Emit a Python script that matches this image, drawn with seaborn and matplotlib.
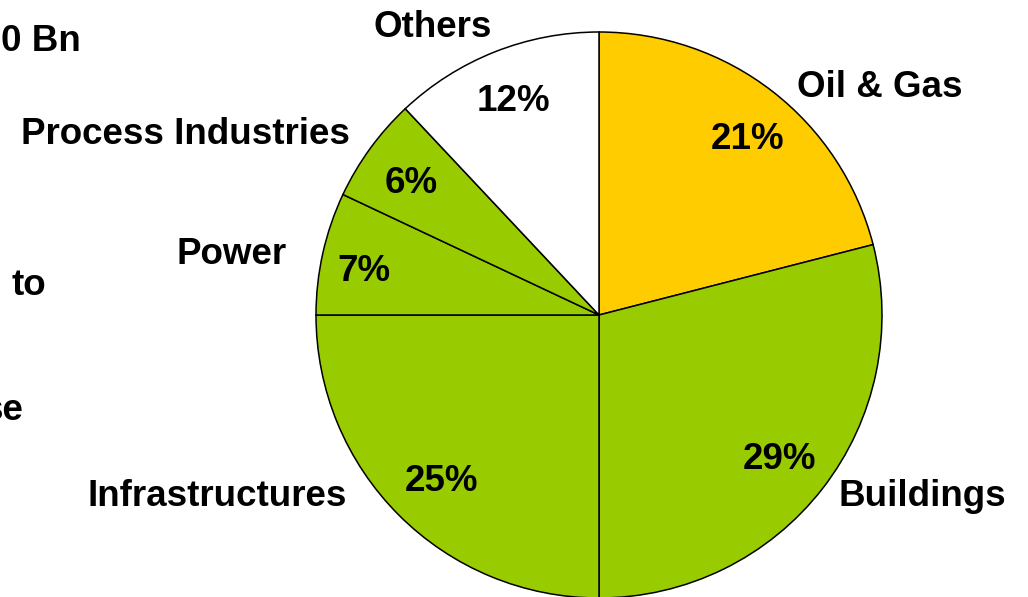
import matplotlib
matplotlib.use("Agg")
import matplotlib.pyplot as plt
import seaborn as sns

# Market split by segment (percent of total)
segments = ["Oil & Gas", "Buildings", "Infrastructures", "Power",
            "Process Industries", "Others"]
shares = [21, 29, 25, 7, 6, 12]
colors = ["#FFCC00", "#99CC00", "#99CC00", "#99CC00", "#99CC00", "#FFFFFF"]

# Fragments of the side text block that run past the left edge
side_text = ["0 Bn", "to", "se"]

sns.set_theme(style="white")
plt.rcParams["font.family"] = ["Liberation Sans", "DejaVu Sans"]

W, H = 1028, 597
fig = plt.figure(figsize=(W / 100, H / 100), dpi=100)
ax = fig.add_axes([0, 0, 1, 1])
ax.set_xlim(0, W)
ax.set_ylim(0, H)
ax.set_aspect("equal")
ax.axis("off")

# Pie geometry in pixel units (y measured from the bottom)
cx, cy, r = 599, H - 315, 283
ax.pie(shares, colors=colors, startangle=90, counterclock=False,
       center=(cx, cy), radius=r, frame=True,
       wedgeprops=dict(edgecolor="black", linewidth=1.1))
ax.set_xlim(0, W)
ax.set_ylim(0, H)
ax.axis("off")

fs = 26.5
# Category label anchors (x centre, baseline measured from top)
label_pos = [(880, 97), (922, 506), (217, 506), (232, 264), (185, 144), (433, 37)]
# Percentage anchors (x centre, baseline measured from top)
pct_pos = [(748, 149), (780, 469), (442, 491), (364, 281), (411, 193), (513, 111)]

for name, (x, yb) in zip(segments, label_pos):
    ax.text(x, H - yb, name, ha="center", va="baseline",
            fontsize=fs, fontweight="bold", color="black")
for v, (x, yb) in zip(shares, pct_pos):
    ax.text(x, H - yb, f"{v}%", ha="center", va="baseline",
            fontsize=fs, fontweight="bold", color="black")

side_pos = [(1, 51, "left"), (12, 295, "left"), (24, 420, "right")]
for t, (x, yb, ha) in zip(side_text, side_pos):
    ax.text(x, H - yb, t, ha=ha, va="baseline",
            fontsize=fs, fontweight="bold", color="black")

fig.savefig("out.png", dpi=100)
